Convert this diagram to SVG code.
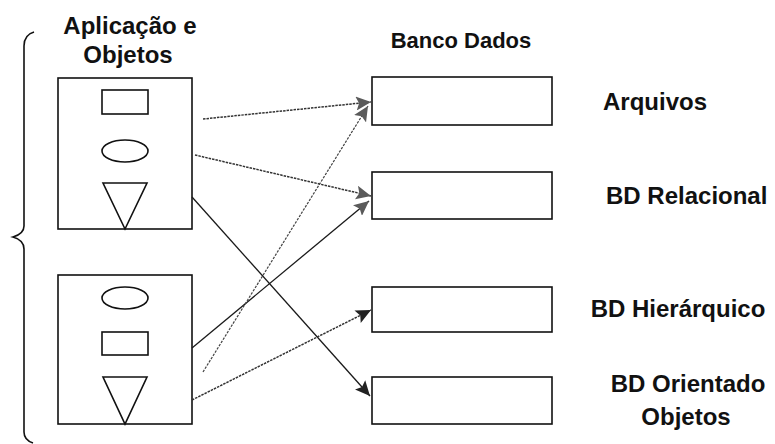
<svg xmlns="http://www.w3.org/2000/svg" width="775" height="444" viewBox="0 0 775 444">
  <style>
    .lbl { font-family: "Liberation Sans", Arial, sans-serif; font-weight: bold; font-size: 24px; fill: #111; }
    .box { fill: #fff; stroke: #111; stroke-width: 1.6; }
    .shape { fill: none; stroke: #111; stroke-width: 1.6; }
    .solid { fill: none; stroke: #1a1a1a; stroke-width: 1.3; }
    .dotted { fill: none; stroke: #333; stroke-width: 1.5; stroke-dasharray: 2.5 1; }
    .light { fill: none; stroke: #444; stroke-width: 1.2; stroke-dasharray: 2.5 1.3; }
  </style>
  <defs>
    <marker id="headGray" markerUnits="userSpaceOnUse" markerWidth="16" markerHeight="14" refX="15" refY="7" orient="auto">
      <path d="M0,0 L15,7 L0,14 L3,7 z" fill="#5a5a5a"/>
    </marker>
    <marker id="headDark" markerUnits="userSpaceOnUse" markerWidth="16" markerHeight="14" refX="15" refY="7" orient="auto">
      <path d="M0,0 L15,7 L0,14 L3,7 z" fill="#222"/>
    </marker>
  </defs>

  <!-- brace grouping the application side -->
  <path class="shape" d="M34 32 C27 34 24 38 24 46 L24 226 C24 232 20 235 13 237 C20 239 24 242 24 249 L24 432 C24 438 27 441 33 443"/>

  <!-- headings -->
  <text class="lbl" x="130" y="34" text-anchor="middle">Aplicação e</text>
  <text class="lbl" x="128" y="63" text-anchor="middle">Objetos</text>
  <text class="lbl" x="461" y="48" text-anchor="middle" style="font-size:22px">Banco Dados</text>

  <!-- application node 1 -->
  <g id="app1">
    <rect class="box" x="58" y="78" width="134" height="151"/>
    <rect class="shape" x="102" y="90" width="46" height="24"/>
    <ellipse class="shape" cx="125" cy="151" rx="23" ry="11"/>
    <polygon class="shape" points="103,183 147,183 125,229"/>
  </g>

  <!-- application node 2 -->
  <g id="app2">
    <rect class="box" x="58" y="275" width="134" height="149"/>
    <ellipse class="shape" cx="125" cy="298" rx="23" ry="11"/>
    <rect class="shape" x="102" y="332" width="46" height="23"/>
    <polygon class="shape" points="103,377 147,377 125,424"/>
  </g>

  <!-- database nodes -->
  <g id="db-arquivos">
    <rect class="box" x="372" y="77" width="180" height="48"/>
    <text class="lbl" x="603" y="110">Arquivos</text>
  </g>
  <g id="db-relacional">
    <rect class="box" x="372" y="172" width="180" height="47"/>
    <text class="lbl" x="606" y="204">BD Relacional</text>
  </g>
  <g id="db-hierarquico">
    <rect class="box" x="372" y="287" width="180" height="45"/>
    <text class="lbl" x="678" y="317" text-anchor="middle">BD Hierárquico</text>
  </g>
  <g id="db-orientado">
    <rect class="box" x="372" y="377" width="180" height="47"/>
    <text class="lbl" x="688" y="392" text-anchor="middle">BD Orientado</text>
    <text class="lbl" x="686" y="425" text-anchor="middle">Objetos</text>
  </g>

  <!-- connectors -->
  <g id="connectors">
    <line class="dotted" x1="203" y1="119" x2="371" y2="102" marker-end="url(#headGray)"/>
    <line class="dotted" x1="195" y1="155" x2="371" y2="196" marker-end="url(#headGray)"/>
    <line class="solid" x1="192" y1="197" x2="370" y2="396" marker-end="url(#headDark)"/>
    <line class="solid" x1="192" y1="348" x2="369" y2="201" marker-end="url(#headGray)"/>
    <line class="light" x1="203" y1="372" x2="368" y2="106" marker-end="url(#headGray)"/>
    <line class="dotted" x1="192" y1="400" x2="371" y2="310" marker-end="url(#headDark)"/>
  </g>
</svg>
